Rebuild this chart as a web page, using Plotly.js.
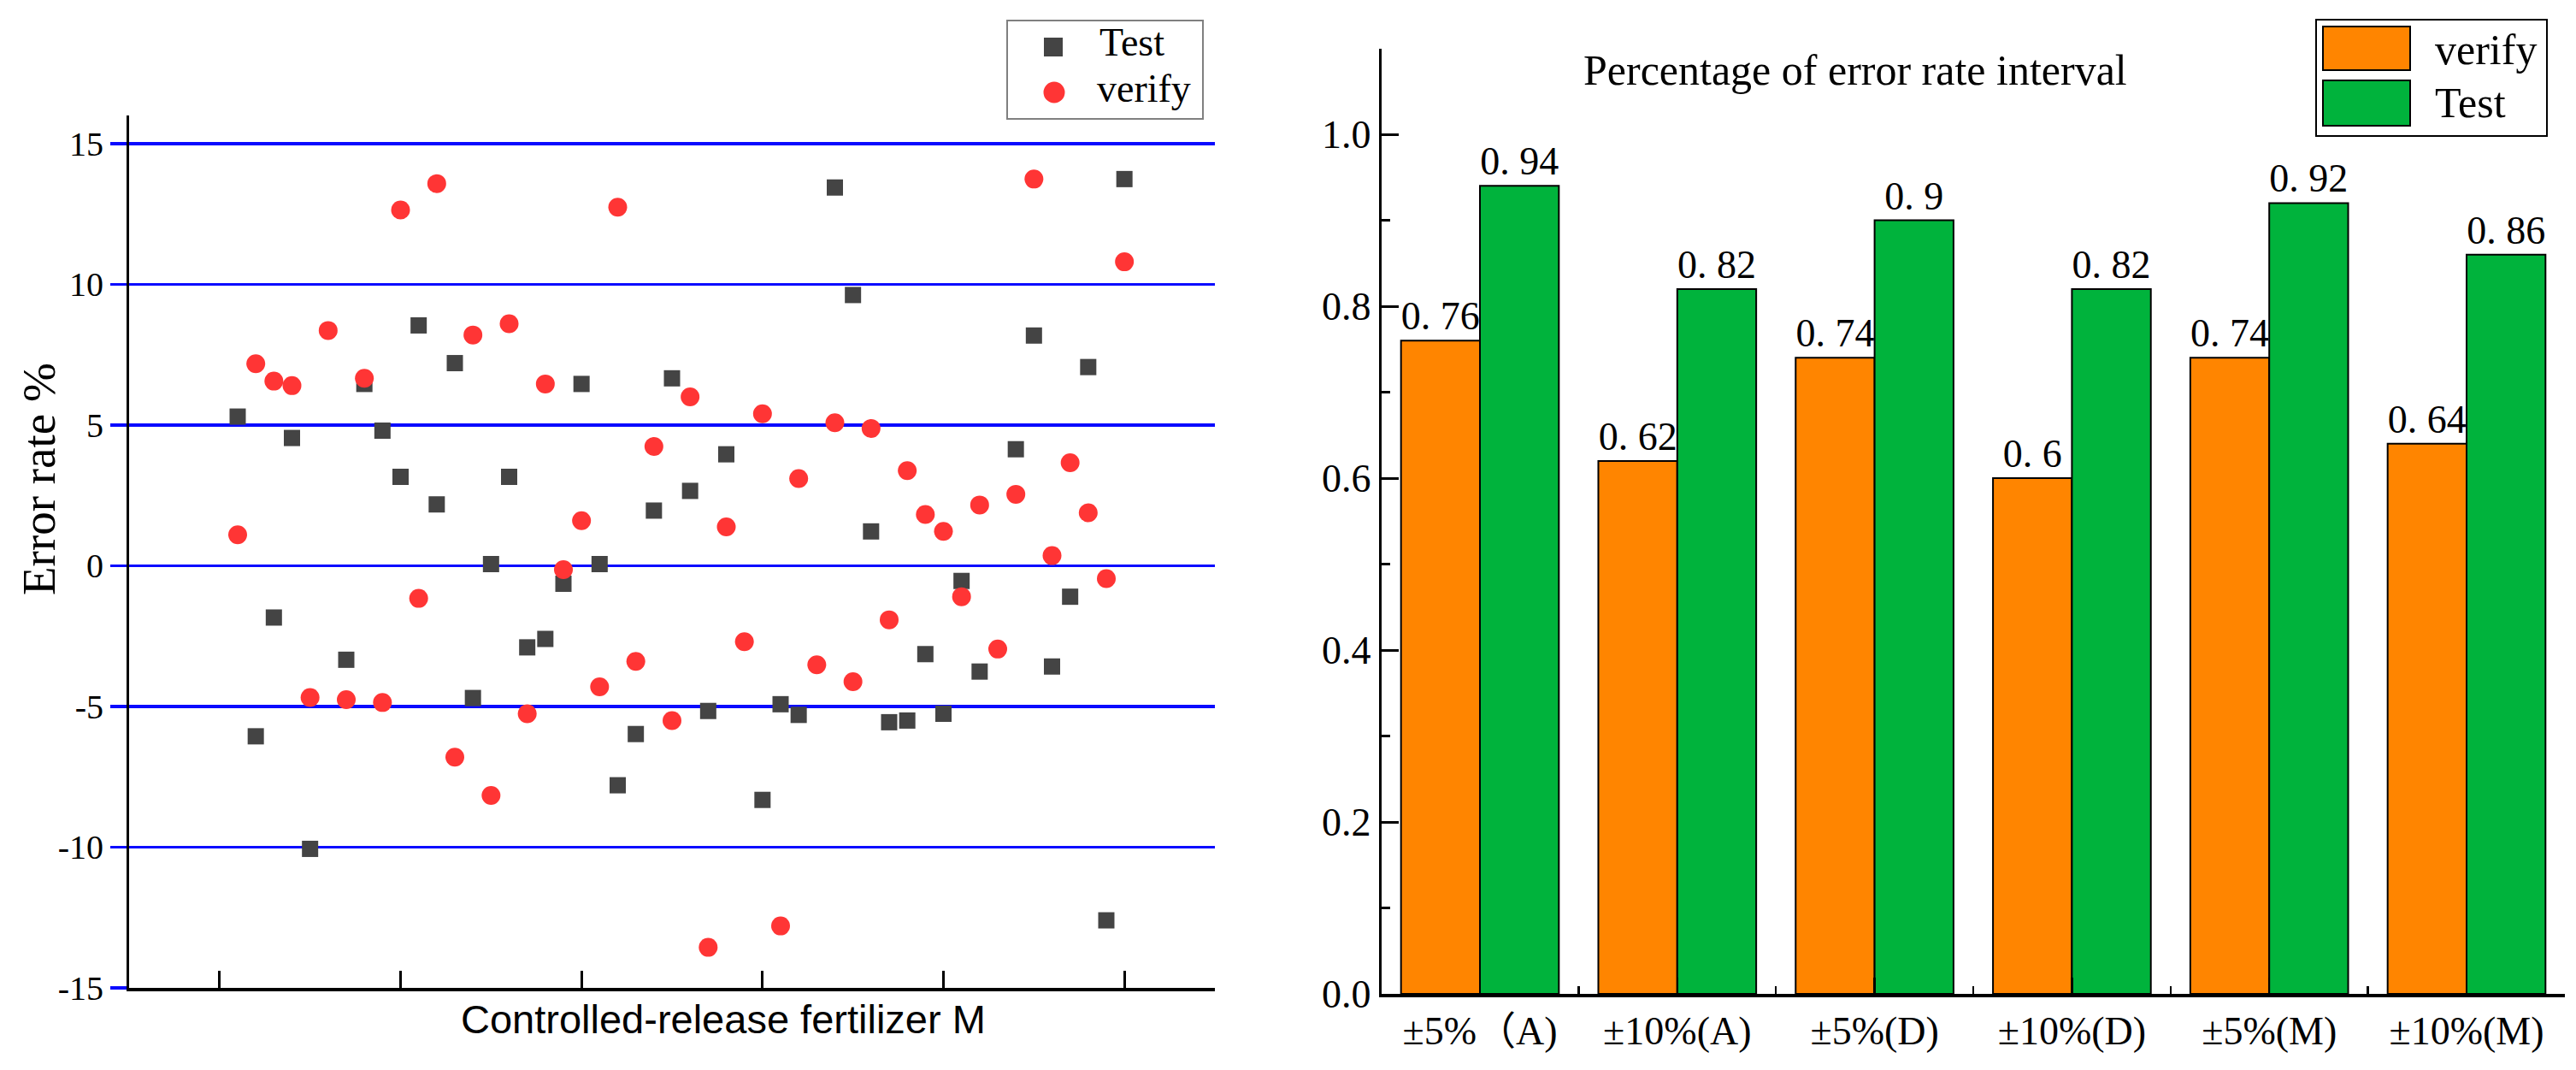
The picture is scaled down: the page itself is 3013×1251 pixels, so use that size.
<!DOCTYPE html>
<html>
<head>
<meta charset="utf-8">
<script src="https://cdn.plot.ly/plotly-3.0.1.min.js"></script>
<style>html,body{margin:0;padding:0;background:#fff;}#chart{width:3013px;height:1251px;}</style>
</head>
<body>
<div id="chart"></div>
<script>
// ---------- data: left scatter (error rate %, samples 1..50) ----------
var sampleIndex = [1,2,3,4,5,6,7,8,9,10,11,12,13,14,15,16,17,18,19,20,21,22,23,24,25,26,27,28,29,30,31,32,33,34,35,36,37,38,39,40,41,42,43,44,45,46,47,48,49,50];
var testError = [5.30,-6.06,-1.84,4.54,-10.06,null,-3.34,6.46,4.80,3.16,8.54,2.18,7.20,-4.70,0.06,3.16,-2.90,-2.60,-0.64,6.46,0.06,-7.80,-5.98,1.96,6.66,2.66,-5.16,3.96,null,-8.32,-4.92,-5.30,null,13.44,9.62,1.22,-5.56,-5.50,-3.14,-5.26,-0.54,-3.76,null,4.14,8.18,-3.58,-1.10,7.06,-12.60,13.74];
var verifyError = [1.10,7.18,6.56,6.40,-4.68,8.36,-4.76,6.66,-4.86,12.64,-1.16,13.58,-6.80,8.20,-8.16,8.60,-5.26,6.46,-0.14,1.60,-4.30,12.74,-3.40,4.24,-5.50,6.00,-13.56,1.38,-2.70,5.40,-12.80,3.10,-3.52,5.08,-4.12,4.88,-1.92,3.38,1.82,1.22,-1.10,2.16,-2.96,2.54,13.74,0.36,3.66,1.88,-0.46,10.80];
var yTickVals = [-15,-10,-5,0,5,10,15];
var xTickVals = [0,10,20,30,40,50];

// ---------- data: right bar chart ----------
var intervalCats = ["\u00b15%\uff08A)","\u00b110%(A)","\u00b15%(D)","\u00b110%(D)","\u00b15%(M)","\u00b110%(M)"];
var verifyShare = [0.76,0.62,0.74,0.60,0.74,0.64];
var testShare = [0.94,0.82,0.90,0.82,0.92,0.86];

var W = 3013, H = 1251;
function px(x){ return x / W; }
function py(y){ return 1 - y / H; }

var SERIF = "Liberation Serif, Times New Roman, Noto Sans CJK SC, serif";
var SANS = "Liberation Sans, Arial, sans-serif";
var ORANGE = "#ff8500", GREEN = "#00b33c", RED = "#ff3535", DARK = "#444444", BLUE = "#0a0aff";

var catPos = intervalCats.map(function(c, i){ return i; });
var catEdges = intervalCats.map(function(c, i){ return i + 0.5; });
function lbl(v){ return String(v).replace('.', '. '); }

var traces = [
  {type:'scatter', mode:'markers', name:'Test', x:sampleIndex, y:testError, xaxis:'x', yaxis:'y',
   marker:{symbol:'square', size:19, color:DARK}, cliponaxis:true, showlegend:false},
  {type:'scatter', mode:'markers', name:'verify', x:sampleIndex, y:verifyError, xaxis:'x', yaxis:'y',
   marker:{symbol:'circle', size:22, color:RED}, cliponaxis:true, showlegend:false},
  {type:'bar', name:'verify', x:catPos, y:verifyShare, xaxis:'x2', yaxis:'y2',
   marker:{color:ORANGE, line:{color:'#000', width:2}},
   text:verifyShare.map(lbl), textposition:'outside', constraintext:'none', cliponaxis:false,
   textfont:{family:SERIF, size:46, color:'#000'}, showlegend:false},
  {type:'bar', name:'Test', x:catPos, y:testShare, xaxis:'x2', yaxis:'y2',
   marker:{color:GREEN, line:{color:'#000', width:2}},
   text:testShare.map(lbl), textposition:'outside', constraintext:'none', cliponaxis:false,
   textfont:{family:SERIF, size:46, color:'#000'}, showlegend:false}
];

var layout = {
  width:W, height:H, margin:{l:0,r:0,t:0,b:0}, paper_bgcolor:'#fff', plot_bgcolor:'#fff',
  showlegend:false, barmode:'group', bargap:0.2, bargroupgap:0,
  xaxis:{domain:[px(151), px(1421)], range:[-5,55], anchor:'y',
    showgrid:false, zeroline:false, showline:true, linecolor:'#000', linewidth:4,
    tickmode:'array', tickvals:xTickVals, ticks:'inside', ticklen:20, tickwidth:3, tickcolor:'#000',
    showticklabels:false},
  yaxis:{domain:[py(1155), py(135)], range:[-15,16], anchor:'x',
    tickmode:'array', tickvals:yTickVals, ticktext:yTickVals.map(String),
    showgrid:true, gridcolor:BLUE, gridwidth:3.5, zeroline:false,
    showline:true, linecolor:'#000', linewidth:3,
    ticks:'outside', ticklen:19, tickwidth:3.5, tickcolor:BLUE,
    tickfont:{family:SERIF, size:40, color:'#000'}},
  xaxis2:{domain:[px(1615.6), px(3000.4)], range:[-0.5,5.5], anchor:'y2',
    showgrid:false, zeroline:false, showline:true, linecolor:'#000', linewidth:4,
    tickmode:'array', tickvals:catPos, ticktext:intervalCats,
    ticks:'inside', ticklen:19, tickwidth:2.5, tickcolor:'#000',
    minor:{tickmode:'array', tickvals:catEdges, ticks:'inside', ticklen:9, tickwidth:2.5, tickcolor:'#000', showgrid:false},
    tickfont:{family:SERIF, size:46, color:'#000'}},
  yaxis2:{domain:[py(1162), py(56.5)], range:[0,1.1], anchor:'x2',
    showgrid:false, zeroline:false, showline:true, linecolor:'#000', linewidth:3,
    tickmode:'linear', tick0:0, dtick:0.2, tickformat:'.1f',
    ticks:'inside', ticklen:20, tickwidth:3, tickcolor:'#000',
    minor:{dtick:0.1, ticks:'inside', ticklen:10, tickwidth:2.5, tickcolor:'#000', showgrid:false},
    tickfont:{family:SERIF, size:46, color:'#000'}},
  shapes:[
    // left legend
    {type:'rect', xref:'paper', yref:'paper', x0:px(1178), x1:px(1407), y0:py(139), y1:py(24), line:{color:'#808080', width:2}, fillcolor:'rgba(0,0,0,0)'},
    {type:'rect', xref:'paper', yref:'paper', x0:px(1221), x1:px(1243), y0:py(66), y1:py(44), line:{width:0}, fillcolor:DARK},
    {type:'circle', xref:'paper', yref:'paper', x0:px(1220.5), x1:px(1245.5), y0:py(120.5), y1:py(95.5), line:{width:0}, fillcolor:RED},
    // right legend
    {type:'rect', xref:'paper', yref:'paper', x0:px(2709), x1:px(2979), y0:py(159), y1:py(23), line:{color:'#000', width:2}, fillcolor:'rgba(0,0,0,0)'},
    {type:'rect', xref:'paper', yref:'paper', x0:px(2717), x1:px(2819), y0:py(82), y1:py(31), line:{color:'#000', width:2}, fillcolor:ORANGE},
    {type:'rect', xref:'paper', yref:'paper', x0:px(2717), x1:px(2819), y0:py(147), y1:py(94), line:{color:'#000', width:2}, fillcolor:GREEN}
  ],
  annotations:[
    {text:'Test', xref:'paper', yref:'paper', x:px(1284), y:py(49), xanchor:'left', yanchor:'middle', showarrow:false, font:{family:SERIF, size:46, color:'#000'}},
    {text:'verify', xref:'paper', yref:'paper', x:px(1281), y:py(104), xanchor:'left', yanchor:'middle', showarrow:false, font:{family:SERIF, size:46, color:'#000'}},
    {text:'verify', xref:'paper', yref:'paper', x:px(2846), y:py(58), xanchor:'left', yanchor:'middle', showarrow:false, font:{family:SERIF, size:50, color:'#000'}},
    {text:'Test', xref:'paper', yref:'paper', x:px(2846), y:py(120), xanchor:'left', yanchor:'middle', showarrow:false, font:{family:SERIF, size:50, color:'#000'}},
    {text:'Percentage of error rate interval', xref:'paper', yref:'paper', x:px(1850), y:py(82), xanchor:'left', yanchor:'middle', showarrow:false, font:{family:SERIF, size:50, color:'#000'}},
    {text:'Controlled-release fertilizer M', xref:'paper', yref:'paper', x:px(537), y:py(1191), xanchor:'left', yanchor:'middle', showarrow:false, font:{family:SANS, size:47, color:'#000'}},
    {text:'Error rate %', xref:'paper', yref:'paper', x:px(45), y:py(560), xanchor:'center', yanchor:'middle', textangle:-90, showarrow:false, font:{family:SERIF, size:55, color:'#000'}}
  ]
};

Plotly.newPlot('chart', traces, layout, {displayModeBar:false, staticPlot:true});
</script>
</body>
</html>
